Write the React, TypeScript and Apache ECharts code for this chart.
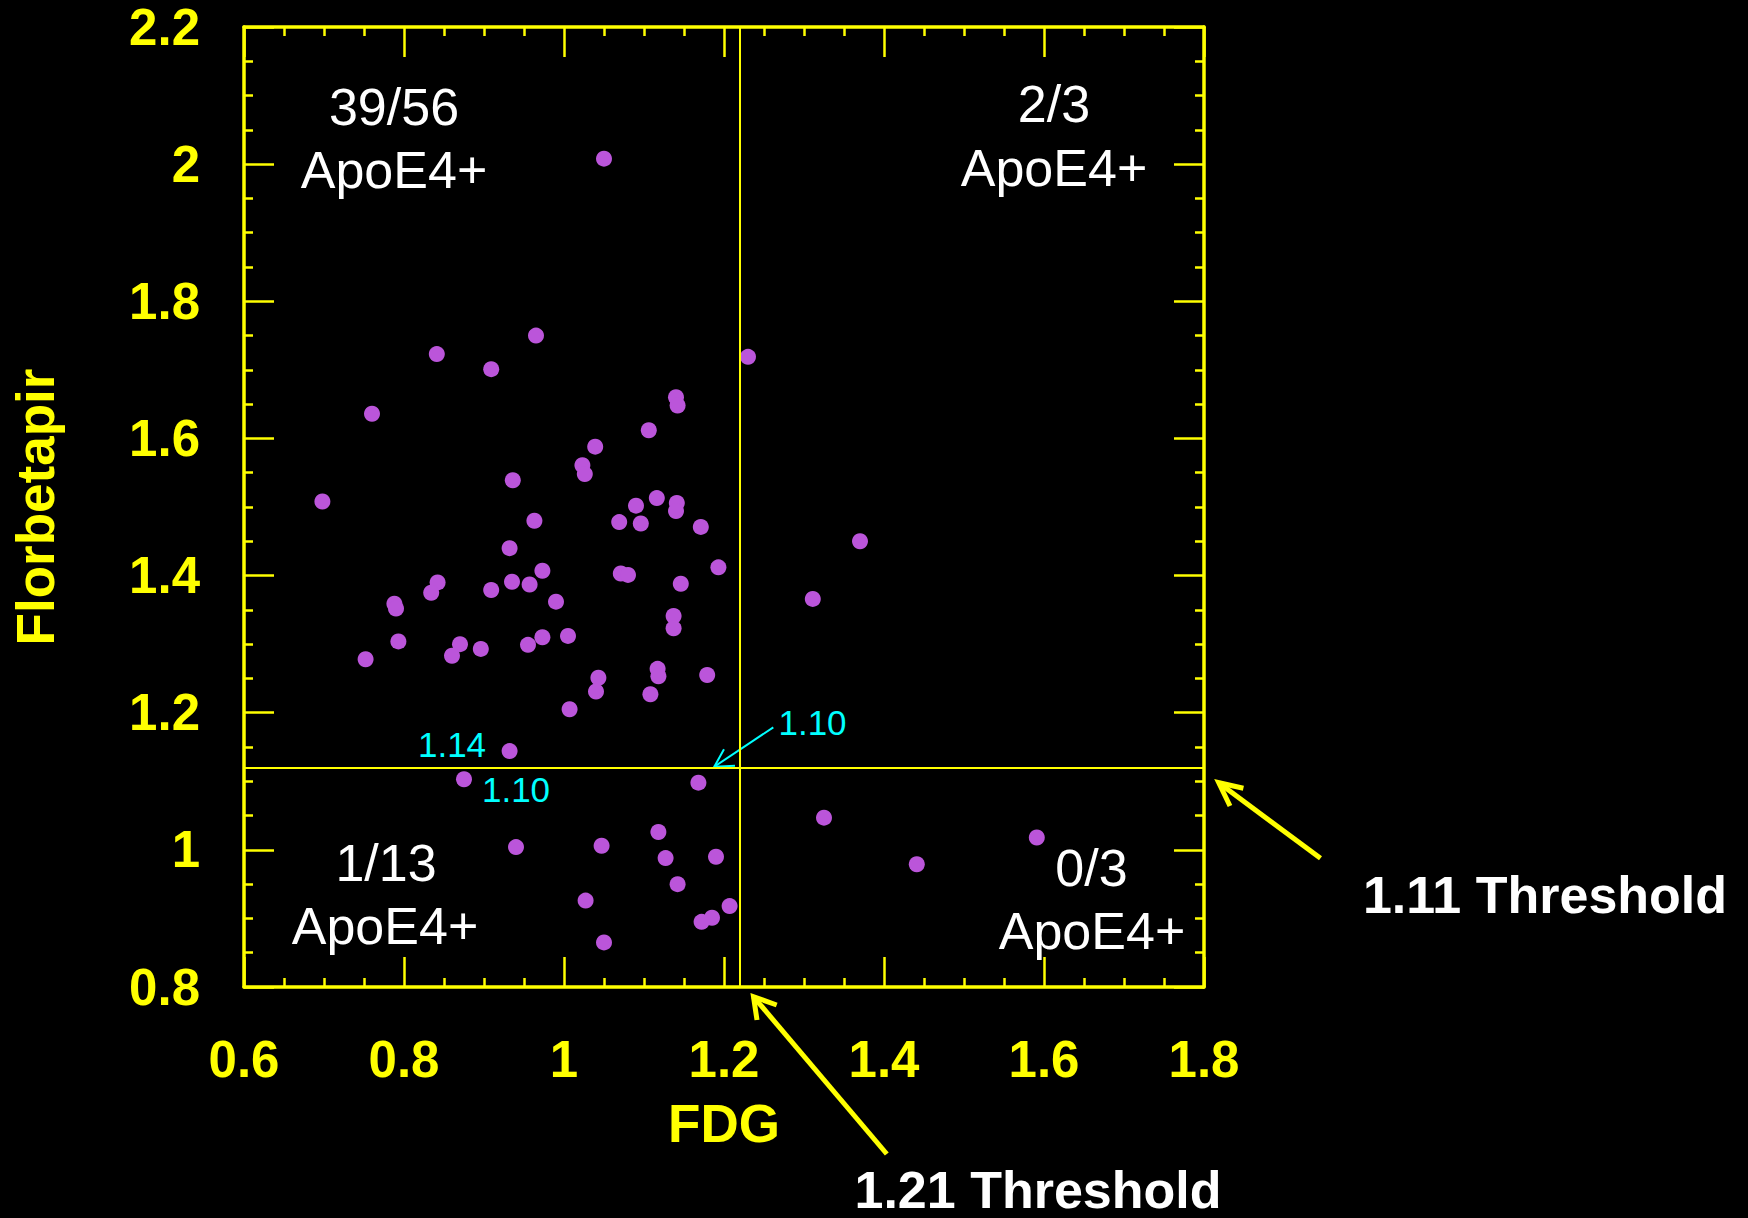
import React, { useEffect, useRef } from "react";
import * as echarts from "echarts";

// FDG (x) and Florbetapir (y) values, one entry per subject
const fdg = [
  0.965, 0.841, 0.909, 0.760, 0.936, 0.698, 0.963, 0.932, 0.973, 1.140,
  1.142, 1.106, 1.039, 1.023, 1.026, 1.116, 1.141, 1.140, 1.090, 1.069,
  1.096, 1.171, 1.193, 1.071, 1.080, 1.146, 0.842, 0.834, 0.909, 0.935,
  0.957, 0.788, 0.790, 0.990, 0.793, 0.752, 0.870, 0.860, 0.896, 0.955,
  0.973, 0.932, 1.137, 1.137, 1.005, 1.043, 1.040, 1.117, 1.118, 1.179,
  1.108, 1.007, 1.050,
  1.230, 1.311, 1.370,
  0.875, 1.168, 0.940, 1.047, 1.118, 1.127, 1.190, 1.142, 1.027, 1.207,
  1.185, 1.172, 1.050,
  1.325, 1.441, 1.591,
];
const florbetapir = [
  1.750, 1.723, 1.701, 1.636, 1.539, 1.508, 1.480, 1.440, 1.407, 1.660,
  1.648, 1.612, 1.588, 1.561, 1.548, 1.513, 1.506, 1.494, 1.502, 1.478,
  1.476, 1.471, 1.412, 1.403, 1.401, 1.388, 1.390, 1.375, 1.379, 1.391,
  1.387, 1.359, 1.352, 1.362, 1.304, 1.278, 1.300, 1.283, 1.293, 1.299,
  1.310, 1.144, 1.341, 1.323, 1.312, 1.251, 1.231, 1.264, 1.253, 1.255,
  1.227, 1.205, 2.008,
  1.719, 1.366, 1.450,
  1.103, 1.098, 1.004, 1.006, 1.026, 0.988, 0.990, 0.950, 0.926, 0.918,
  0.901, 0.895, 0.865,
  1.047, 0.979, 1.018,
];

// threshold lines as drawn
const fdgThresholdLine = 1.219;
const florThresholdLine = 1.119;

const quadrantFractions = ["39/56", "2/3", "1/13", "0/3"];
const quadrantSub = "ApoE4+";
const cyanLabels = ["1.14", "1.10", "1.10"];
const thresholdLabels = ["1.11 Threshold", "1.21 Threshold"];

const Y = "#FFFF00";
const CYAN = "#00FFFF";
const FONT = '"Liberation Sans", Arial, sans-serif';

export default function App() {
  const ref = useRef<HTMLDivElement>(null);
  useEffect(() => {
    if (!ref.current) return;
    const chart = echarts.init(ref.current, null, { renderer: "svg" });
    const data = fdg.map((x, i) => [x, florbetapir[i]]);

    const axisCommon = {
      type: "value" as const,
      axisLine: { show: true, onZero: false, lineStyle: { color: Y, width: 3.5 } },
      axisTick: { show: true, inside: true, length: 30, lineStyle: { color: Y, width: 2.5 } },
      minorTick: { show: true, splitNumber: 4, length: 9, lineStyle: { color: Y, width: 2.5 } },
      splitLine: { show: false },
      minorSplitLine: { show: false },
    };
    const tickLabel = {
      color: Y,
      fontFamily: FONT,
      fontWeight: "bold" as const,
      fontSize: 51,
    };
    const nameStyle = {
      color: Y,
      fontFamily: FONT,
      fontWeight: "bold" as const,
      fontSize: 53,
    };

    const qText = (t: string, x: number, y: number) => ({
      type: "text",
      x,
      y,
      style: {
        text: t,
        fill: "#FFFFFF",
        font: `normal 52px ${FONT}`,
        align: "center",
        verticalAlign: "middle",
      },
    });
    const cText = (t: string, x: number, y: number) => ({
      type: "text",
      x,
      y,
      style: {
        text: t,
        fill: CYAN,
        font: `normal 35px ${FONT}`,
        align: "center",
        verticalAlign: "middle",
      },
    });
    const bText = (t: string, x: number, y: number) => ({
      type: "text",
      x,
      y,
      style: {
        text: t,
        fill: "#FFFFFF",
        font: `bold 52px ${FONT}`,
        align: "center",
        verticalAlign: "middle",
      },
    });
    const arrow = (
      tail: number[],
      tip: number[],
      h1: number[],
      h2: number[],
      color: string,
      w: number
    ) => [
      {
        type: "line",
        shape: { x1: tail[0], y1: tail[1], x2: tip[0], y2: tip[1] },
        style: { stroke: color, lineWidth: w },
      },
      {
        type: "polyline",
        shape: { points: [h1, tip, h2] },
        style: { stroke: color, lineWidth: w, fill: "none" },
      },
    ];

    const option = {
      backgroundColor: "#000000",
      animation: false,
      grid: { left: 244, top: 27, width: 960, height: 960 },
      xAxis: [
        {
          ...axisCommon,
          position: "bottom",
          min: 0.6,
          max: 1.8,
          interval: 0.2,
          axisLabel: { ...tickLabel, margin: 47 },
          name: "FDG",
          nameLocation: "middle",
          nameGap: 110,
          nameTextStyle: nameStyle,
        },
        {
          ...axisCommon,
          position: "top",
          min: 0.6,
          max: 1.8,
          interval: 0.2,
          axisLabel: { show: false },
        },
      ],
      yAxis: [
        {
          ...axisCommon,
          position: "left",
          min: 0.8,
          max: 2.2,
          interval: 0.2,
          axisLabel: { ...tickLabel, margin: 44 },
          name: "Florbetapir",
          nameLocation: "middle",
          nameGap: 182,
          nameRotate: 90,
          nameTextStyle: nameStyle,
        },
        {
          ...axisCommon,
          position: "right",
          min: 0.8,
          max: 2.2,
          interval: 0.2,
          axisLabel: { show: false },
        },
      ],
      series: [
        {
          type: "scatter",
          xAxisIndex: 0,
          yAxisIndex: 0,
          data,
          symbol: "circle",
          symbolSize: 16,
          itemStyle: { color: "#BB55DA", opacity: 1 },
          markLine: {
            silent: true,
            symbol: ["none", "none"],
            label: { show: false },
            lineStyle: { color: Y, width: 2, type: "solid" },
            data: [{ xAxis: fdgThresholdLine }, { yAxis: florThresholdLine }],
          },
        },
      ],
      graphic: [
        qText(quadrantFractions[0], 394, 107),
        qText(quadrantSub, 394, 170),
        qText(quadrantFractions[1], 1054, 104),
        qText(quadrantSub, 1054, 167.5),
        qText(quadrantFractions[2], 386, 862.5),
        qText(quadrantSub, 385, 926),
        qText(quadrantFractions[3], 1091.5, 868),
        qText(quadrantSub, 1092, 930.5),
        cText(cyanLabels[0], 452, 744.5),
        cText(cyanLabels[1], 516, 789.5),
        cText(cyanLabels[2], 812.5, 722.5),
        ...arrow([773.3, 727.3], [714.3, 766.7], [724, 749.3], [735, 765.7], CYAN, 2),
        bText(thresholdLabels[0], 1545, 895),
        bText(thresholdLabels[1], 1038, 1190),
        ...arrow([1320.5, 858.3], [1218.7, 782.7], [1230, 806], [1243.4, 788.3], Y, 5),
        ...arrow([886.8, 1154], [753.5, 996.7], [757, 1020], [776.7, 1005], Y, 5),
      ],
    };
    chart.setOption(option as any);
    return () => chart.dispose();
  }, []);
  return (
    <div
      ref={ref}
      style={{ position: "absolute", left: 0, top: 0, width: 1748, height: 1218, background: "#000" }}
    />
  );
}
